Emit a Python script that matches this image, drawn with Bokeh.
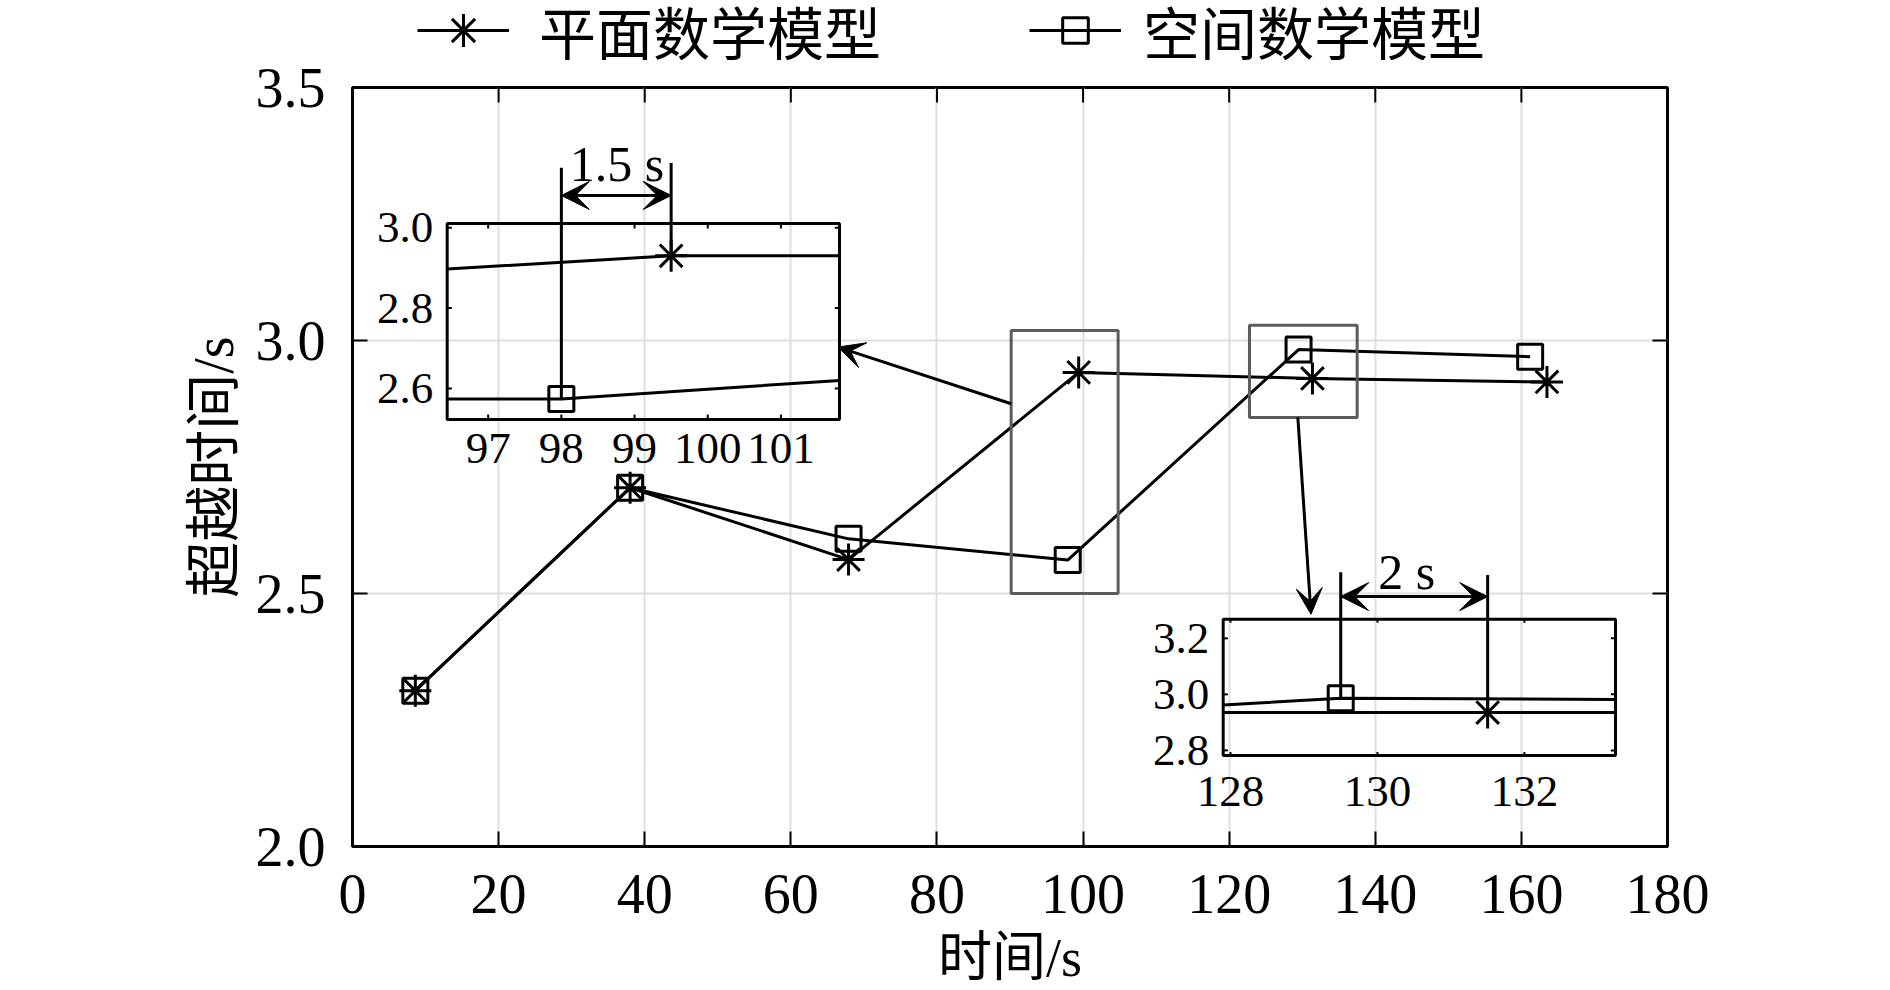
import math
from bokeh.plotting import figure
from bokeh.layouts import column
from bokeh.models import (Range1d, Legend, LegendItem, BoxAnnotation, Arrow, VeeHead,
                          CoordinateMapping, PrintfTickFormatter)
from bokeh.embed import file_html
from bokeh.resources import INLINE
from bokeh.core.properties import value

# ---------------- data ----------------
series_names = ["平面数学模型", "空间数学模型"]
x_label = "时间/s"
y_label = "超越时间/s"

t_plane = [8.6, 38.0, 67.9, 99.4, 131.4, 163.5]
v_plane = [2.308, 2.709, 2.567, 2.937, 2.925, 2.918]
t_space = [8.6, 38.0, 67.9, 97.9, 129.5, 161.2]
v_space = [2.308, 2.709, 2.608, 2.566, 2.982, 2.968]

x_ticks = [0, 20, 40, 60, 80, 100, 120, 140, 160, 180]
y_ticks = [2.0, 2.5, 3.0, 3.5]
x_lim = [0, 180]
y_lim = [2.0, 3.5]

# inset 1 (zoom around 98-101 s)
in1_xlim = [96.44, 101.8]
in1_ylim = [2.523, 3.01]
in1_x_ticks = [97, 98, 99, 100, 101]
in1_y_ticks = [2.6, 2.8, 3.0]
in1_t_plane = [96.44, 99.5, 101.8]
in1_v_plane = [2.897, 2.930, 2.930]
in1_t_space = [96.44, 98.0, 101.8]
in1_v_space = [2.574, 2.574, 2.620]
in1_mark_t_plane = [99.5]
in1_mark_v_plane = [2.930]
in1_mark_t_space = [98.0]
in1_mark_v_space = [2.574]
in1_gap_text = "1.5 s"

# inset 2 (zoom around 129-132 s)
in2_xlim = [127.9, 133.24]
in2_ylim = [2.782, 3.268]
in2_x_ticks = [128, 130, 132]
in2_y_ticks = [2.8, 3.0, 3.2]
in2_t_plane = [127.9, 131.5, 133.24]
in2_v_plane = [2.935, 2.935, 2.935]
in2_t_space = [127.9, 129.5, 133.24]
in2_v_space = [2.962, 2.986, 2.982]
in2_mark_t_plane = [131.5]
in2_mark_v_plane = [2.935]
in2_mark_t_space = [129.5]
in2_mark_v_space = [2.986]
in2_gap_text = "2 s"

# ---------------- annotation geometry ----------------
in1_place_x = [12.96, 66.66]
in1_place_y = [2.844, 3.231]
in2_place_x = [119.18, 172.88]
in2_place_y = [2.180, 2.449]

box1 = dict(left=90.16, right=104.8, bottom=2.50, top=3.020)
box2 = dict(left=122.78, right=137.52, bottom=2.848, top=3.030)
arrow1 = dict(x_start=90.16, y_start=2.875, x_end=66.45, y_end=2.987)
arrow2 = dict(x_start=129.4, y_start=2.848, x_end=131.2, y_end=2.459)

in1_dim = dict(x=[98.0, 99.5], y_top=[3.149, 3.161], y_arrow=3.08, text_x=98.76, text_y=3.159)
in2_dim = dict(x=[129.5, 131.5], y_top=[3.436, 3.426], y_arrow=3.349, text_x=130.4, text_y=3.438)

SERIF = "Liberation Serif"
MIXED = "Liberation Serif, Noto Sans CJK SC"

W = 1890
TOTAL_H = 990
LEG_H = 60
MAIN_H = TOTAL_H - LEG_H

p = figure(width=W, height=MAIN_H, x_range=Range1d(*x_lim), y_range=Range1d(*y_lim),
           output_backend="svg", toolbar_location=None,
           min_border_left=352, min_border_right=223, min_border_top=27, min_border_bottom=144,
           x_axis_label=x_label, y_axis_label=y_label)
p.outline_line_color = "black"
p.outline_line_width = 3
p.outline_line_alpha = 1
p.background_fill_color = "white"
p.border_fill_color = "white"

xax = p.xaxis[0]
yax = p.yaxis[0]
xax.ticker = x_ticks
yax.ticker = y_ticks
yax.formatter = PrintfTickFormatter(format="%.1f")
for ax in (xax, yax):
    ax.major_tick_in = 15
    ax.major_tick_out = 0
    ax.minor_tick_line_color = None
    ax.axis_line_width = 3
    ax.axis_line_color = "black"
    ax.major_tick_line_width = 2
    ax.major_tick_line_color = "black"
    ax.major_label_text_font = SERIF
    ax.major_label_text_color = "black"
    ax.major_label_text_font_size = "56px"
    ax.axis_label_text_font = MIXED
    ax.axis_label_text_font_style = "normal"
    ax.axis_label_text_color = "black"
xax.major_label_standoff = 28
yax.major_label_standoff = 27
xax.axis_label_text_font_size = "54px"
yax.axis_label_text_font_size = "56px"
xax.axis_label_standoff = 12
yax.axis_label_standoff = 8

p.xgrid.ticker = x_ticks
p.ygrid.ticker = y_ticks
for g in (p.xgrid[0], p.ygrid[0]):
    g.grid_line_color = "#dedede"
    g.grid_line_width = 2

# inward ticks on the top and right edges (outer half is clipped by the frame)
p.scatter(x=x_ticks, y=[y_lim[1]] * len(x_ticks), marker="dash", angle=math.pi / 2,
          size=30, line_color="black", line_width=2)
p.scatter(x=[x_lim[1]] * len(y_ticks), y=y_ticks, marker="dash", angle=0,
          size=30, line_color="black", line_width=2)

# main series
p.line(t_plane, v_plane, line_color="black", line_width=3)
p.scatter(t_plane, v_plane, marker="asterisk", size=32, line_color="black", line_width=3)
p.line(t_space, v_space, line_color="black", line_width=3)
p.scatter(t_space, v_space, marker="square", size=25, fill_color=None,
          line_color="black", line_width=3)

# highlight boxes and pointers
for b in (box1, box2):
    p.add_layout(BoxAnnotation(fill_alpha=0, fill_color=None, line_color="#5c5c5c",
                               line_alpha=1, line_width=3, **b))
for a in (arrow1, arrow2):
    p.add_layout(Arrow(end=VeeHead(size=26, fill_color="black", line_color="black"),
                       line_width=3, line_color="black", **a))


def draw_inset(xlim, ylim, place_x, place_y, xt, yt, tp, vp, ts, vs,
               mtp, mvp, mts, mvs, dim, gap_text, xlab_off):
    cm = CoordinateMapping(x_source=Range1d(*xlim), y_source=Range1d(*ylim),
                           x_target=Range1d(*place_x), y_target=Range1d(*place_y))
    rs = []
    rs.append(p.line(tp, vp, line_color="black", line_width=3))
    rs.append(p.line(ts, vs, line_color="black", line_width=3))
    rs.append(p.scatter(mtp, mvp, marker="asterisk", size=32, line_color="black", line_width=3))
    rs.append(p.scatter(mts, mvs, marker="square", size=25, fill_color=None,
                        line_color="black", line_width=3))
    rs.append(p.quad(left=[xlim[0]], right=[xlim[1]], bottom=[ylim[0]], top=[ylim[1]],
                     fill_color=None, line_color="black", line_width=3))
    tx = 0.012 * (xlim[1] - xlim[0])
    ty = 0.025 * (ylim[1] - ylim[0])
    rs.append(p.segment(x0=xt, x1=xt, y0=[ylim[0]] * len(xt), y1=[ylim[0] + ty] * len(xt),
                        line_color="black", line_width=2))
    rs.append(p.segment(x0=xt, x1=xt, y0=[ylim[1]] * len(xt), y1=[ylim[1] - ty] * len(xt),
                        line_color="black", line_width=2))
    rs.append(p.segment(x0=[xlim[0]] * len(yt), x1=[xlim[0] + tx] * len(yt), y0=yt, y1=yt,
                        line_color="black", line_width=2))
    rs.append(p.segment(x0=[xlim[1]] * len(yt), x1=[xlim[1] - tx] * len(yt), y0=yt, y1=yt,
                        line_color="black", line_width=2))
    rs.append(p.text(x=xt, y=[ylim[0]] * len(xt), text=[str(v) for v in xt],
                     text_align="center", text_baseline="top", y_offset=xlab_off,
                     text_font=value(SERIF), text_font_size="45px", text_color="black"))
    rs.append(p.text(x=[xlim[0]] * len(yt), y=yt, text=["%.1f" % v for v in yt],
                     text_align="right", text_baseline="middle", x_offset=-14,
                     text_font=value(SERIF), text_font_size="45px", text_color="black"))
    rs.append(p.segment(x0=dim["x"], x1=dim["x"], y0=[mvs[0], mvp[0]], y1=dim["y_top"],
                        line_color="black", line_width=3))
    rs.append(p.text(x=[dim["text_x"]], y=[dim["text_y"]], text=[gap_text],
                     text_align="center", text_baseline="alphabetic",
                     text_font=value(SERIF), text_font_size="50px", text_color="black"))
    for r in rs:
        r.coordinates = cm
    arr = Arrow(x_start=dim["x"][0], y_start=dim["y_arrow"], x_end=dim["x"][1], y_end=dim["y_arrow"],
                start=VeeHead(size=28, fill_color="black", line_color="black"),
                end=VeeHead(size=28, fill_color="black", line_color="black"),
                line_width=3, line_color="black")
    arr.coordinates = cm
    p.add_layout(arr)


draw_inset(in1_xlim, in1_ylim, in1_place_x, in1_place_y, in1_x_ticks, in1_y_ticks,
           in1_t_plane, in1_v_plane, in1_t_space, in1_v_space,
           in1_mark_t_plane, in1_mark_v_plane, in1_mark_t_space, in1_mark_v_space,
           in1_dim, in1_gap_text, 15)
draw_inset(in2_xlim, in2_ylim, in2_place_x, in2_place_y, in2_x_ticks, in2_y_ticks,
           in2_t_plane, in2_v_plane, in2_t_space, in2_v_space,
           in2_mark_t_plane, in2_mark_v_plane, in2_mark_t_space, in2_mark_v_space,
           in2_dim, in2_gap_text, 22)

# ---------------- legend strip above the chart ----------------
# (its frame is aligned with the main frame by the column layout)
lf = figure(width=W, height=LEG_H, x_range=Range1d(0, 1), y_range=Range1d(0, 1),
            output_backend="svg", toolbar_location=None, x_axis_type=None, y_axis_type=None,
            min_border_left=0, min_border_right=0, min_border_top=0, min_border_bottom=0)
lf.outline_line_color = None
lf.grid.visible = False
lf.background_fill_color = "white"
lf.border_fill_color = "white"
hidden = [-5.0]   # sample point outside the strip's visible range; only used as a legend swatch
lg_lp = lf.line(hidden, hidden, line_color="black", line_width=3)
lg_sp = lf.scatter(hidden, hidden, marker="asterisk", line_color="black", line_width=3)
lg_ls = lf.line(hidden, hidden, line_color="black", line_width=3)
lg_ss = lf.scatter(hidden, hidden, marker="square", fill_color=None, line_color="black", line_width=3)

for name, rends, xloc, gh, so in ((series_names[0], [lg_lp, lg_sp], 65, 82, 30),
                                  (series_names[1], [lg_ls, lg_ss], 677, 64, 22)):
    lg = Legend(items=[LegendItem(label=name, renderers=rends)], location=(xloc, -11),
                orientation="horizontal")
    lg.border_line_color = None
    lg.background_fill_alpha = 0
    lg.padding = 0
    lg.margin = 0
    lg.glyph_width = 92
    lg.glyph_height = gh
    lg.label_height = 82
    lg.label_standoff = so
    lg.label_text_font = MIXED
    lg.label_text_font_size = "57px"
    lg.label_text_color = "black"
    lf.add_layout(lg)

layout = column(lf, p, spacing=0)
open("out.html", "w").write(file_html(layout, INLINE))
